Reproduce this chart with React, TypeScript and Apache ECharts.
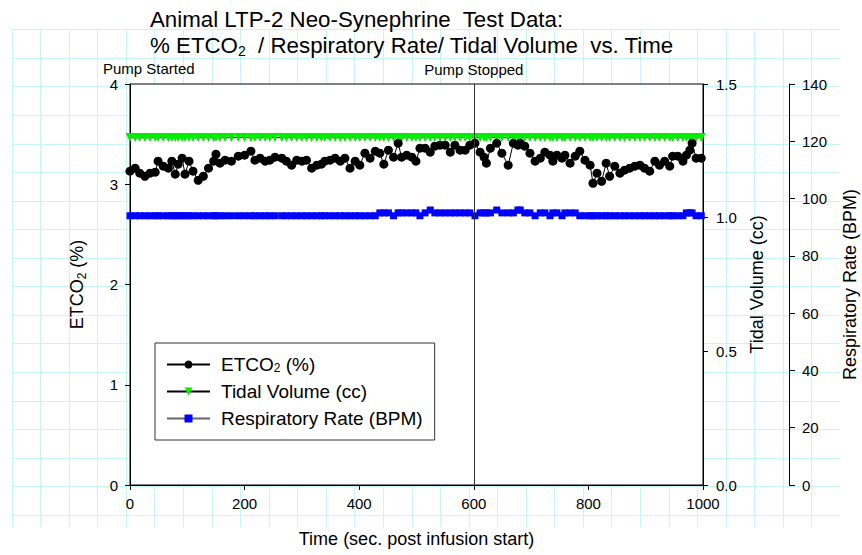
import React, { useEffect, useRef } from "react";
import * as echarts from "echarts";

const FONT = '"Liberation Sans", Arial, Helvetica, sans-serif';

// Time (sec. post infusion start)
const timeSec = [
  0, 9, 17, 26, 35, 44, 49, 58, 67, 73,
  79, 84, 91, 96, 103, 110, 119, 128, 137, 146,
  150, 157, 166, 177, 189, 200, 211, 218, 227, 236,
  244, 253, 265, 273, 282, 291, 300, 308, 317, 326,
  334, 340, 349, 358, 367, 375, 384, 393, 401, 410,
  419, 428, 436, 443, 451, 460, 468, 474, 483, 492,
  499, 506, 515, 524, 532, 541, 550, 559, 567, 576,
  585, 593, 602, 611, 618, 622, 629, 640, 649, 660,
  669, 677, 681, 689, 698, 707, 716, 724, 733, 738,
  745, 754, 759, 768, 777, 785, 794, 803, 808, 815,
  823, 831, 837, 846, 855, 863, 872, 881, 890, 898,
  907, 916, 924, 933, 942, 947, 956, 965, 971, 977,
  981, 988, 997,
];

// ETCO2 (%)
const etco2 = [
  3.13, 3.16, 3.11, 3.08, 3.11, 3.12, 3.23, 3.18, 3.16, 3.23,
  3.10, 3.20, 3.26, 3.10, 3.23, 3.13, 3.04, 3.08, 3.16, 3.23,
  3.30, 3.21, 3.24, 3.23, 3.28, 3.29, 3.33, 3.24, 3.26, 3.23,
  3.24, 3.27, 3.26, 3.23, 3.19, 3.24, 3.23, 3.24, 3.16, 3.19,
  3.20, 3.23, 3.24, 3.26, 3.23, 3.26, 3.16, 3.23, 3.19, 3.31,
  3.26, 3.33, 3.31, 3.20, 3.34, 3.27, 3.41, 3.27, 3.29, 3.27,
  3.23, 3.36, 3.36, 3.32, 3.38, 3.39, 3.39, 3.32, 3.39, 3.34,
  3.34, 3.39, 3.41, 3.32, 3.27, 3.21, 3.36, 3.41, 3.31, 3.19,
  3.41, 3.39, 3.41, 3.38, 3.31, 3.23, 3.26, 3.32, 3.29, 3.23,
  3.29, 3.26, 3.29, 3.21, 3.28, 3.33, 3.24, 3.19, 3.01, 3.11,
  3.03, 3.21, 3.08, 3.18, 3.11, 3.14, 3.16, 3.18, 3.19, 3.16,
  3.13, 3.23, 3.19, 3.23, 3.18, 3.28, 3.28, 3.23, 3.29, 3.34,
  3.41, 3.26, 3.26,
];

// Tidal Volume (cc)
const tidalVolume = [
  1.3, 1.3, 1.3, 1.3, 1.3, 1.3, 1.3, 1.3, 1.3, 1.3,
  1.3, 1.3, 1.3, 1.3, 1.3, 1.3, 1.3, 1.3, 1.3, 1.3,
  1.3, 1.3, 1.3, 1.3, 1.3, 1.3, 1.3, 1.3, 1.3, 1.3,
  1.3, 1.3, 1.3, 1.3, 1.3, 1.3, 1.3, 1.3, 1.3, 1.3,
  1.3, 1.3, 1.3, 1.3, 1.3, 1.3, 1.3, 1.3, 1.3, 1.3,
  1.3, 1.3, 1.3, 1.3, 1.3, 1.3, 1.3, 1.3, 1.3, 1.3,
  1.3, 1.3, 1.3, 1.3, 1.3, 1.3, 1.3, 1.3, 1.3, 1.3,
  1.3, 1.3, 1.3, 1.3, 1.3, 1.3, 1.3, 1.3, 1.3, 1.3,
  1.3, 1.3, 1.3, 1.3, 1.3, 1.3, 1.3, 1.3, 1.3, 1.3,
  1.3, 1.3, 1.3, 1.3, 1.3, 1.3, 1.3, 1.3, 1.3, 1.3,
  1.3, 1.3, 1.3, 1.3, 1.3, 1.3, 1.3, 1.3, 1.3, 1.3,
  1.3, 1.3, 1.3, 1.3, 1.3, 1.3, 1.3, 1.3, 1.3, 1.3,
  1.3, 1.3, 1.3,
];

// Respiratory Rate (BPM)
const respRate = [
  94, 94, 94, 94, 94, 94, 94, 94, 94, 94,
  94, 94, 94, 94, 94, 94, 94, 94, 94, 94,
  94, 94, 94, 94, 94, 94, 94, 94, 94, 94,
  94, 94, 94, 94, 94, 94, 94, 94, 94, 94,
  94, 94, 94, 94, 94, 94, 94, 94, 94, 94,
  94, 94, 95, 95, 95, 94, 95, 95, 95, 95,
  95, 94, 95, 96, 95, 95, 95, 95, 95, 95,
  95, 95, 94, 95, 95, 95, 95, 96, 95, 95,
  95, 96, 96, 95, 95, 94, 95, 95, 94, 95,
  95, 94, 95, 95, 95, 94, 94, 94, 94, 94,
  94, 94, 94, 94, 94, 94, 94, 94, 94, 94,
  94, 94, 94, 94, 94, 94, 94, 94, 95, 95,
  95, 94, 94,
];

const pumpStopTime = 600;

const titleLine1 = "Animal LTP-2 Neo-Synephrine  Test Data:";
const titleLine2 = "% ETCO{sub|2}  / Respiratory Rate/ Tidal Volume  vs. Time";

function zip(xs: number[], ys: number[]) {
  return xs.map((x, i) => [x, ys[i]]);
}

function paperGrid() {
  const els: any[] = [];
  const step = 28.56;
  const x0 = 11.7, x1 = 840, y0 = 29.3, y1 = 527;
  for (let i = 0; x0 + step * i <= x1 - 5; i++) {
    const x = Math.round(x0 + step * i) + 0.5;
    els.push({ type: "line", silent: true, z: -10, shape: { x1: x, y1: y0, x2: x, y2: y1 }, style: { stroke: "#c6f6f6", lineWidth: 1 } });
  }
  for (let j = 0; y0 + step * j <= y1 - 5; j++) {
    const y = Math.round(y0 + step * j) + 0.5;
    els.push({ type: "line", silent: true, z: -10, shape: { x1: x0, y1: y, x2: x1, y2: y }, style: { stroke: "#c6f6f6", lineWidth: 1 } });
  }
  return els;
}

export default function App() {
  const ref = useRef<HTMLDivElement>(null);
  useEffect(() => {
    const chart = echarts.init(ref.current!, null, { renderer: "svg" });
    const subRich = (size: number, lh: number) => ({
      sub: { fontSize: size, lineHeight: lh, verticalAlign: "bottom", fontFamily: FONT, color: "#000" },
    });
    const option: any = {
      animation: false,
      textStyle: { fontFamily: FONT, color: "#000" },
      title: {
        left: 150,
        top: 6,
        padding: 0,
        text: titleLine1 + "\n" + titleLine2,
        textStyle: {
          fontFamily: FONT,
          fontSize: 22.3,
          fontWeight: "normal",
          color: "#000",
          lineHeight: 26,
          rich: subRich(14, 9),
        },
      },
      graphic: {
        elements: [
          ...paperGrid(),
          {
            type: "text",
            left: 103,
            top: 61,
            z: 10,
            style: { text: "Pump Started", font: `15px ${FONT}`, fill: "#000" },
          },
        ],
      },
      legend: {
        orient: "vertical",
        left: 155,
        top: 343,
        backgroundColor: "#fff",
        borderColor: "#333",
        borderWidth: 1,
        borderRadius: 0,
        padding: [12, 12, 12, 11],
        itemWidth: 43,
        itemHeight: 10,
        itemGap: 8,
        data: ["ETCO2 (%)", "Tidal Volume (cc)", "Respiratory Rate (BPM)"],
        formatter: (name: string) => (name === "ETCO2 (%)" ? "ETCO{sub|2} (%)" : name),
        textStyle: {
          fontFamily: FONT,
          fontSize: 19,
          lineHeight: 18,
          color: "#000",
          padding: [0, 0, 0, 6],
          rich: subRich(12, 6),
        },
      },
      grid: {
        left: 130,
        top: 84,
        width: 573,
        height: 401,
        show: true,
        backgroundColor: "#fff",
        borderColor: "#000",
        borderWidth: 1,
        outerBoundsMode: "none",
        containLabel: false,
      },
      xAxis: {
        type: "value",
        min: 0,
        max: 1000,
        interval: 200,
        name: "Time (sec. post infusion start)",
        nameLocation: "middle",
        nameGap: 45,
        nameTextStyle: { fontFamily: FONT, fontSize: 18, color: "#000" },
        axisLine: { lineStyle: { color: "#000", width: 1 } },
        axisTick: { length: 5, lineStyle: { color: "#000" } },
        axisLabel: { fontFamily: FONT, fontSize: 15, color: "#000", margin: 11, formatter: (v: number) => String(v) },
        splitLine: { show: false },
      },
      yAxis: [
        {
          type: "value",
          position: "left",
          min: 0,
          max: 4,
          interval: 1,
          name: "ETCO{sub|2} (%)",
          nameLocation: "middle",
          nameGap: 42,
          nameTextStyle: { fontFamily: FONT, fontSize: 18, color: "#000", lineHeight: 22, rich: subRich(12, 8) },
          axisLine: { show: true, lineStyle: { color: "#000", width: 1 } },
          axisTick: { show: true, length: 5, lineStyle: { color: "#000" } },
          axisLabel: { fontFamily: FONT, fontSize: 15, color: "#000", margin: 12 },
          splitLine: { show: false },
        },
        {
          type: "value",
          position: "right",
          min: 0,
          max: 1.5,
          interval: 0.5,
          name: "Tidal Volume (cc)",
          nameLocation: "middle",
          nameGap: 36,
          nameTextStyle: { fontFamily: FONT, fontSize: 18, color: "#000" },
          axisLine: { show: true, lineStyle: { color: "#000", width: 1 } },
          axisTick: { show: true, length: 5, lineStyle: { color: "#000" } },
          axisLabel: { fontFamily: FONT, fontSize: 15, color: "#000", margin: 13, formatter: (v: number) => v.toFixed(1) },
          splitLine: { show: false },
        },
        {
          type: "value",
          position: "right",
          offset: 86,
          min: 0,
          max: 140,
          interval: 20,
          name: "Respiratory Rate (BPM)",
          nameLocation: "middle",
          nameGap: 52,
          nameTextStyle: { fontFamily: FONT, fontSize: 18, color: "#000" },
          axisLine: { show: true, lineStyle: { color: "#000", width: 1 } },
          axisTick: { show: true, length: 6, lineStyle: { color: "#000" } },
          axisLabel: { fontFamily: FONT, fontSize: 15, color: "#000", margin: 13 },
          splitLine: { show: false },
        },
      ],
      series: [
        {
          name: "Respiratory Rate (BPM)",
          type: "line",
          xAxisIndex: 0,
          yAxisIndex: 2,
          data: zip(timeSec, respRate),
          symbol: "rect",
          symbolSize: 7,
          itemStyle: { color: "#0000ff" },
          lineStyle: { color: "#666", width: 1 },
          z: 2,
        },
        {
          name: "Tidal Volume (cc)",
          type: "line",
          xAxisIndex: 0,
          yAxisIndex: 1,
          data: zip(timeSec, tidalVolume),
          symbol: "triangle",
          symbolRotate: 180,
          symbolSize: 9,
          itemStyle: { color: "#00ee00" },
          lineStyle: { color: "#000", width: 1 },
          z: 3,
        },
        {
          name: "ETCO2 (%)",
          type: "line",
          xAxisIndex: 0,
          yAxisIndex: 0,
          data: zip(timeSec, etco2),
          symbol: "circle",
          symbolSize: 9,
          itemStyle: { color: "#000" },
          lineStyle: { color: "#000", width: 1 },
          z: 4,
          markLine: {
            silent: true,
            symbol: "none",
            lineStyle: { color: "#333", width: 1, type: "solid" },
            label: { show: true, position: "end", formatter: "Pump Stopped", fontFamily: FONT, fontSize: 15, color: "#000", distance: 7 },
            data: [{ xAxis: pumpStopTime }],
          },
        },
      ],
    };
    chart.setOption(option);
    return () => chart.dispose();
  }, []);
  return <div ref={ref} style={{ position: "absolute", left: 0, top: 0, width: 862, height: 555 }} />;
}
